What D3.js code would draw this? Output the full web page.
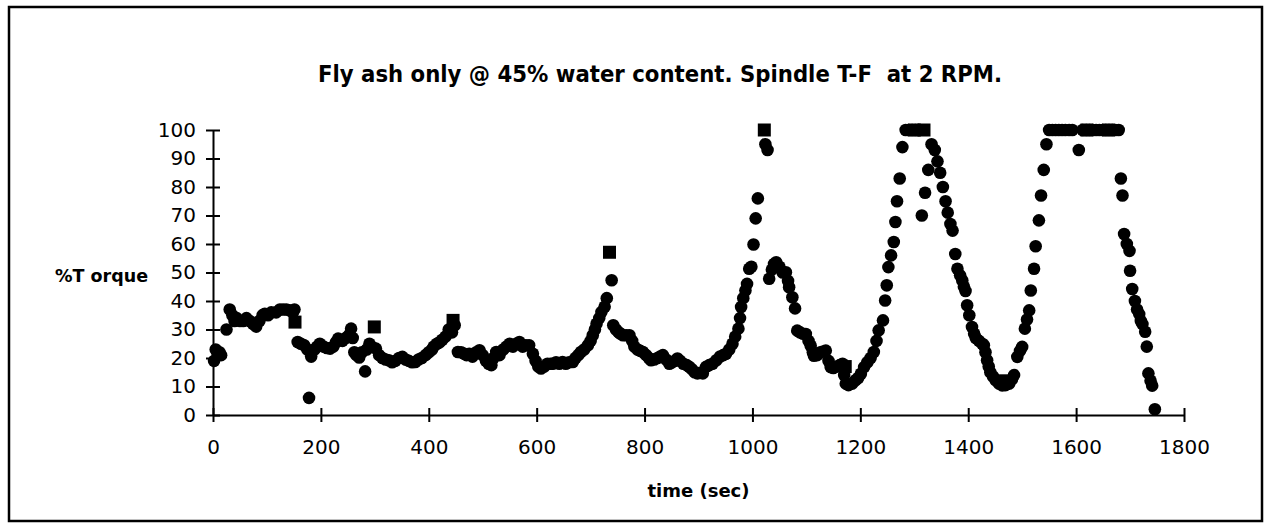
<!DOCTYPE html>
<html>
<head>
<meta charset="utf-8">
<script src="https://cdn.jsdelivr.net/npm/d3@7"></script>
<style>
  body { margin: 0; background: #fff; }
  svg { display: block; }
  .tick text { font-family: "DejaVu Sans", sans-serif; font-size: 20px; fill: #000; }
  .domain, .tick line { stroke: #000; stroke-width: 2; }
</style>
</head>
<body>
<script>
// readings: [time (sec), % torque]
var circlePoints = [
  [2,19],[5,23],[8,22],[12,22],[15,21],[25,30],[31,37],[36,35],
  [40,33],[44,34],[50,33],[56,33],[62,34],[68,33],[74,32],[80,31],[86,33],[92,35],[96,35.5],
  [102,35],[108,36],[117,36],[124,37],[130,37],[136,37],[142,36.7],[148,36],[151,37],
  [157,25.6],[163,25],[169,24.5],[175,23],[178,6],[182,20.5],[188,23],[193,24],[198,25],
  [205,24],[211,23.5],[217,23.3],[223,24],[228,25.5],[232,26.8],[240,26],[246,27],[252,28],
  [256,30.3],[259,27],[262,22],[266,21],[271,20.2],[276,22],[282,15.3],[285,23],[290,25],[294,24],[302,23.3],
  [308,21],[314,20],[320,19.5],[326,19.2],[332,18.5],[338,19],[345,20],[351,20.4],[357,19.5],
  [363,19],[369,18.5],[375,18.6],[381,19.5],[387,20],[394,21],[400,22],[406,23],[409,24],
  [415,25],[420,25.5],[425,26.4],[431,27.5],[437,30],[443,29],[448,31.5],
  [454,22.1],[460,22],[466,21.5],[470,21],[475,21.5],[481,20.5],[488,22],[494,22.7],[500,21],
  [506,19],[511,18],[516,17.5],[520,20],[525,22.1],[531,21],[538,23],[544,24],[550,25],[556,24],
  [562,25],[568,25.6],[574,24],[580,24.5],[586,24.5],[593,21.5],[598,19],[603,17],[608,16.3],
  [614,17],[620,18],[626,18],[630,18],[636,18.5],[642,18],[648,18.6],[654,18],[660,18.5],
  [667,18.6],[672,20],[677,21],[682,22.1],[688,23],[695,24.5],[700,26],[704,28],[708,30],
  [711,32],[716,34],[720,36.1],[726,38],[730,41],[739,47.3],
  [742,31.5],[747,30],[752,29],[755,28.6],[760,28],[766,28],[772,28],[777,26],[781,24],
  [787,23],[792,22.5],[797,22.1],[803,21],[808,20],[812,19.2],[818,19.5],[824,20],[829,20.5],
  [834,21],[840,19.5],[846,18],[851,18.5],[856,19],[861,19.8],[866,19],[872,18],[878,17.5],
  [883,16.9],[888,16],[893,15],[898,14.6],[903,14.8],[908,14.6],[914,16.9],[920,17.5],[926,18],
  [933,19.2],[940,20.5],[946,21],[951,21.5],[957,23],[963,25],[968,27.5],[974,30.3],[977,34],
  [979,37.9],[983,41],[987,43.7],[990,46],[994,51.3],[998,52],[1002,59.8],[1006,69],[1010,76],
  [1024,95],[1028,93],
  [1031,47.8],[1036,51],[1040,53],[1044,53.6],[1050,52],[1056,50],[1062,50.1],[1066,47],
  [1068,44.8],[1074,41.3],[1079,37.4],[1083,29.6],[1088,29],[1094,28.5],[1099,28.4],[1104,26],
  [1108,24.3],[1112,22],[1114,20.8],[1120,21],[1126,22],[1131,22.3],[1136,22.6],[1141,19],
  [1145,16.8],[1150,16.5],[1156,17],[1162,17.5],[1167,18],[1170,14],[1173,11],[1178,10.5],
  [1185,11],[1191,12.2],[1196,13],[1201,14.5],[1207,16.8],[1213,18.5],[1219,20],[1225,22.1],
  [1230,26],[1234,29.7],[1242,33.2],[1246,40.2],[1249,45.5],[1252,51.9],[1257,56],[1262,60.7],
  [1265,67.7],[1268,75],[1273,83],[1278,94],[1284,100],[1290,100],[1296,100],[1302,100],
  [1308,100],[1314,70],[1320,78],[1326,86],[1332,95],[1338,93],[1343,89],[1348,85],[1353,80],
  [1358,75],[1362,71],[1367,67],[1371,64.7],[1376,56.5],[1380,51.3],[1385,49],[1389,47.2],
  [1392,45],[1395,43.5],[1398,38.5],[1402,35],[1407,30.9],[1411,28.5],[1414,27],[1420,26],
  [1426,25],[1429,24.5],[1432,22],[1435,19.2],[1438,17],[1441,15],[1446,13.5],[1451,12.2],
  [1457,11],[1463,10.4],[1469,10.5],[1476,11],[1481,12.5],[1485,14],[1491,20.4],[1496,22.5],
  [1500,23.9],[1505,30.3],[1509,33.5],[1513,36.7],[1516,43.7],[1522,51.3],[1525,59.2],
  [1531,68.3],[1535,77],[1540,86],[1545,95],[1550,100],[1556,100],[1562,100],[1568,100],
  [1574,100],[1580,100],[1587,100],[1593,100],[1605,93],[1612,100],[1619,100],[1625,100],
  [1631,100],[1637,100],[1643,100],[1649,100],[1655,100],[1661,100],[1667,100],[1673,100],
  [1679,100],[1683,83],[1686,77],[1689,63.5],[1694,60],[1699,57.6],[1700,50.6],[1704,44.2],
  [1709,40],[1713,37],[1717,35.4],[1720,33],[1723,31.9],[1728,29.2],[1731,24],[1734,14.6],
  [1738,12],[1741,10.3],[1746,2]
];

var squarePoints = [
  [152,32.6],[299,30.9],[445,33.2],[735,57.1],[1022,100],[1172,17],
  [1300,100],[1318,100],[1468,12],[1620,100],[1660,100]
];

var xTicks = [0,200,400,600,800,1000,1200,1400,1600,1800];
var yTicks = [0,10,20,30,40,50,60,70,80,90,100];

var titleText = "Fly ash only @ 45% water content. Spindle T-F  at 2 RPM.";
var xLabel = "time (sec)";
var yLabel = "%T orque";

var width = 1265,
    height = 523;

var svg = d3.select("body").append("svg")
    .attr("width", width)
    .attr("height", height);

// outer chart frame
svg.append("rect")
    .attr("x", 9)
    .attr("y", 7)
    .attr("width", 1253)
    .attr("height", 514)
    .attr("fill", "none")
    .attr("stroke", "#000")
    .attr("stroke-width", 2.5);

var x = d3.scaleLinear().domain([0, 1800]).range([213, 1184]);
var y = d3.scaleLinear().domain([0, 100]).range([415, 130]);

var xAxis = svg.append("g")
    .attr("transform", "translate(0," + y(0) + ")")
    .call(d3.axisBottom(x).tickValues(xTicks).tickFormat(d3.format("d"))
      .tickSize(7).tickSizeOuter(0).tickPadding(18));
xAxis.selectAll(".tick line").attr("y1", -7);

var yAxis = svg.append("g")
    .attr("transform", "translate(" + x(0) + ",0)")
    .call(d3.axisLeft(y).tickValues(yTicks).tickFormat(d3.format("d"))
      .tickSize(7).tickSizeOuter(0).tickPadding(10));
yAxis.selectAll(".tick line").attr("x1", 7);

// markers
svg.append("g")
  .selectAll("circle")
    .data(circlePoints)
  .enter().append("circle")
    .attr("cx", function(d) { return x(d[0]); })
    .attr("cy", function(d) { return y(d[1]); })
    .attr("r", 6.3)
    .attr("fill", "#000");

svg.append("g")
  .selectAll("rect")
    .data(squarePoints)
  .enter().append("rect")
    .attr("x", function(d) { return x(d[0]) - 6.5; })
    .attr("y", function(d) { return y(d[1]) - 6.5; })
    .attr("width", 13)
    .attr("height", 13)
    .attr("fill", "#000");

// texts
svg.append("text")
    .attr("x", 318)
    .attr("y", 82)
    .attr("textLength", 684)
    .attr("lengthAdjust", "spacingAndGlyphs")
    .style("font-family", "DejaVu Sans, sans-serif")
    .style("font-weight", "bold")
    .style("font-size", "23px")
    .style("white-space", "pre")
    .text(titleText);

svg.append("text")
    .attr("x", 55)
    .attr("y", 282)
    .attr("textLength", 93)
    .attr("lengthAdjust", "spacingAndGlyphs")
    .style("font-family", "DejaVu Sans, sans-serif")
    .style("font-weight", "bold")
    .style("font-size", "18px")
    .text(yLabel);

svg.append("text")
    .attr("x", x(900))
    .attr("y", 497)
    .attr("text-anchor", "middle")
    .style("font-family", "DejaVu Sans, sans-serif")
    .style("font-weight", "bold")
    .style("font-size", "18px")
    .text(xLabel);
</script>
</body>
</html>
